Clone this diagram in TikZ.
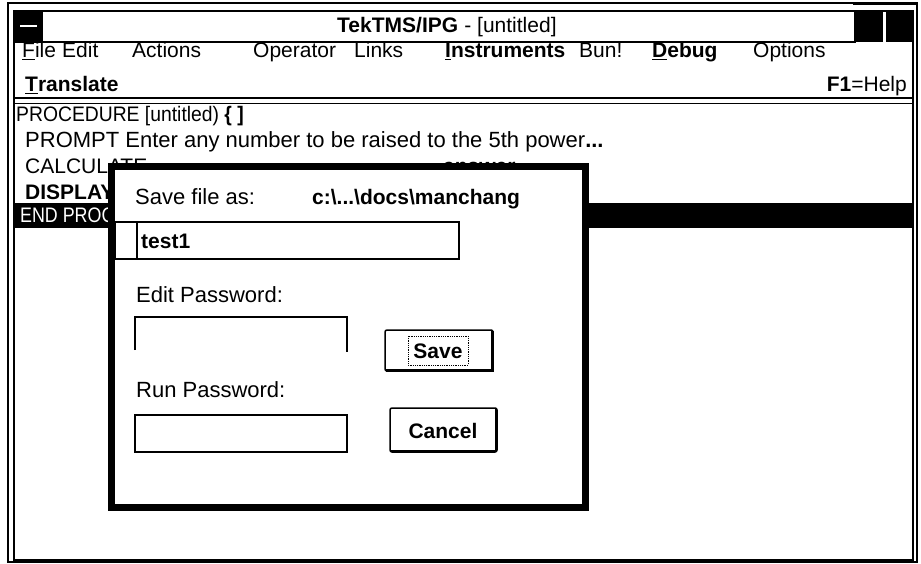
\documentclass[tikz,border=0pt]{standalone}
\usepackage{fontspec}
\setmainfont{Liberation Sans}
\newfontfamily\condfam[FakeStretch=0.85]{Liberation Sans}
\newfontfamily\semicond[FakeStretch=0.92]{Liberation Sans}
\newcommand\mtxt{\fontsize{21}{25}\selectfont}
\newcommand\dtxt{\fontsize{22}{26}\selectfont}
\newcommand\btxt{\bfseries\fontsize{21}{25}\selectfont}
\begin{document}
\begin{tikzpicture}[x=1pt,y=-1pt,
  txt/.style={inner sep=0pt,anchor=base west,font=\mtxt},
  dtx/.style={inner sep=0pt,anchor=base west,font=\dtxt},
  btx/.style={inner sep=0pt,anchor=base west,font=\btxt},
  framebox/.style={draw,line width=1.5pt},
  fieldbox/.style={draw,line width=1.3pt},
  thickframe/.style={draw,line width=7pt,fill=white}]
\useasboundingbox (0,0) rectangle (921,564);
% ---------- outer window frame ----------
\draw[line width=1.5pt] (8,3) rectangle (917,562);
\draw[line width=2pt] (14,11) rectangle (913,560);
% title bar
\draw[framebox] (14,11) rectangle (855,42);
\fill (14,11) rectangle (43,42);
\draw[white,line width=2pt] (20,26) -- (37,26);
\draw[line width=1pt] (853,5) -- (917,5);
\fill (856,11) rectangle (883,42);
\fill (886,11) rectangle (912,42);
\node[btx] (tt1) at (337,33) {TekTMS/IPG};
\node[txt] (tt2) at (tt1.base east) {\ - [untitled]};
% menu row 1
\node[txt] (mfile) at (22,58) {\underline{F}ile};
\node[txt] (medit) at (62,58) {Edit};
\node[txt] (mact) at (132,58) {Actions};
\node[txt] (mop) at (253,58) {Operator};
\node[txt] (mlink) at (354,58) {Links};
\node[btx] (minst) at (445,58) {\underline{I}nstruments};
\node[txt] (mbun) at (579,58) {Bun!};
\node[btx] (mdbg) at (652,58) {\underline{D}ebug};
\node[txt] (mopt) at (753,58) {Options};
% menu row 2
\node[btx] (mtr) at (25,92) {\underline{T}ranslate};
\node[txt,anchor=base east] (mhelp) at (907,92) {{\btxt F1}=Help};
% separator
\draw[line width=2.5pt] (14,98) -- (913,98);
\draw[line width=1pt] (14,104) -- (913,104);
% ---------- text area ----------
\node[txt,font=\semicond\mtxt] (proc) at (16,122) {PROCEDURE [untitled) {\bfseries\{ ]}};
\node[dtx] (prompt) at (25,148) {PROMPT Enter any number to be raised to the 5th power{\bfseries...}};
\node[txt] (calc) at (25,174) {CALCULATE};
\node[btx] (ans) at (443,174) {answer};
\node[txt] (disp) at (25,200) {\bfseries DISPLAY};
\fill (14,203) rectangle (913,228);
\node[txt,text=white,font=\condfam\fontsize{21}{25}\selectfont] (endpr) at (20,223) {END PROCEDURE};
% ---------- dialog ----------
\draw[thickframe] (111.5,166.5) rectangle (585.5,507.5);
\node[dtx] (savelbl) at (135,205) {Save file as:};
\node[btx] (path) at (312,205) {c:\textbackslash...\textbackslash docs\textbackslash manchang};
\draw[fieldbox] (115,222) rectangle (459,259);
\draw[fieldbox] (137,222) -- (137,259);
\node[btx] (fname) at (141,248) {test1};
\node[dtx] (editlbl) at (136,302) {Edit Password:};
\draw[fieldbox] (135,350) -- (135,317) -- (347,317) -- (347,352);
\node[dtx] (runlbl) at (136,397) {Run Password:};
\draw[fieldbox] (135,415) rectangle (347,452);
% Save button
\draw[line width=1.5pt,rounded corners=2pt] (385,330) rectangle (493,371);
\draw[line width=3pt] (386,370) -- (492,370) -- (492,331);
\draw[densely dotted,line width=0.8pt] (408,336) rectangle (468,365);
\node[btx,anchor=center] (save) at (438,351) {Save};
% Cancel button
\draw[line width=1.5pt,rounded corners=2pt] (390,408) rectangle (497,452);
\draw[line width=2.5pt] (391,451) -- (496,451) -- (496,409);
\node[btx,anchor=center] (cancel) at (443,431) {Cancel};
\end{tikzpicture}
\end{document}
